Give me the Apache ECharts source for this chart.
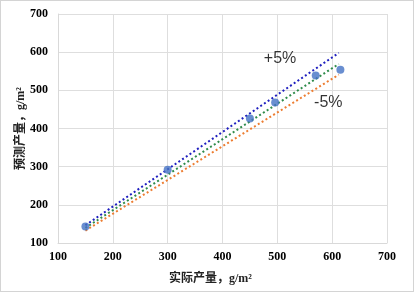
<!DOCTYPE html>
<html><head><meta charset="utf-8">
<script src="https://cdn.jsdelivr.net/npm/echarts@6/dist/echarts.min.js"></script>
<style>html,body{margin:0;padding:0;background:#fff}#c{width:414px;height:292px;box-sizing:border-box;border:1px solid #d4d4d4}</style>
</head><body><div id="c"></div>
<script>
var xTicks = [100, 200, 300, 400, 500, 600, 700];
var yTicks = [100, 200, 300, 400, 500, 600, 700];
var points = [[150, 143], [300, 292], [450, 426], [496, 468], [570, 539], [615, 554]];
var fitLine = [[150, 139.5], [612, 569]];
var upperLine = [[150, 146.5], [612, 598]];
var lowerLine = [[150, 132.5], [612, 541]];
var labels = [{text: '+5%', x: 505, y: 582}, {text: '-5%', x: 593, y: 468}];

var chart = echarts.init(document.getElementById('c'), null, {renderer: 'canvas'});
var tickFont = {fontFamily: 'Liberation Serif', fontWeight: 'bold', fontSize: 12, color: '#000'};
chart.setOption({
  animation: false,
  grid: {left: 57, right: 26, top: 13, bottom: 48},
  xAxis: {
    type: 'value', min: 100, max: 700, interval: 100,
    name: '实际产量，g/m²', nameLocation: 'middle', nameGap: 30, nameMoveOverlap: false,
    nameTextStyle: {fontFamily: 'Liberation Serif, Noto Sans CJK SC', fontWeight: 'bold', fontSize: 12, color: '#222', padding: [0, 24, 0, 0]},
    axisLine: {lineStyle: {color: '#d9d9d9'}}, axisTick: {show: false},
    axisLabel: Object.assign({margin: 8, formatter: function (v) { return xTicks.indexOf(v) >= 0 ? v : ''; }}, tickFont),
    splitLine: {lineStyle: {color: '#dedede'}}
  },
  yAxis: {
    type: 'value', min: 100, max: 700, interval: 100,
    name: '预测产量，g/m²', nameLocation: 'middle', nameGap: 31, nameRotate: 90, nameMoveOverlap: false,
    nameTextStyle: {fontFamily: 'Liberation Serif, Noto Sans CJK SC', fontWeight: 'bold', fontSize: 12, color: '#222'},
    axisLine: {show: true, lineStyle: {color: '#d9d9d9'}}, axisTick: {show: false},
    axisLabel: Object.assign({margin: 10, formatter: function (v) { return yTicks.indexOf(v) >= 0 ? v : ''; }}, tickFont),
    splitLine: {lineStyle: {color: '#dedede'}}
  },
  series: [
    {type: 'line', data: upperLine, symbol: 'none', lineStyle: {color: '#1f1fbf', width: 2, type: [2, 2.5]}},
    {type: 'line', data: fitLine, symbol: 'none', lineStyle: {color: '#2e8b4a', width: 2, type: [2, 2.5]}},
    {type: 'line', data: lowerLine, symbol: 'none', lineStyle: {color: '#ed7d31', width: 2, type: [2, 2.5]}},
    {type: 'scatter', data: points, symbol: 'circle', symbolSize: 8, itemStyle: {color: '#4472c4'}, z: 5},
    {type: 'scatter', data: labels.map(function (l) { return {value: [l.x, l.y], name: l.text}; }), symbolSize: 1, itemStyle: {color: 'rgba(0,0,0,0)'},
      label: {show: true, position: 'inside', formatter: function (p) { return p.name; }, fontFamily: 'Liberation Sans', fontSize: 16, color: '#000'}, z: 6}
  ]
});
</script></body></html>
